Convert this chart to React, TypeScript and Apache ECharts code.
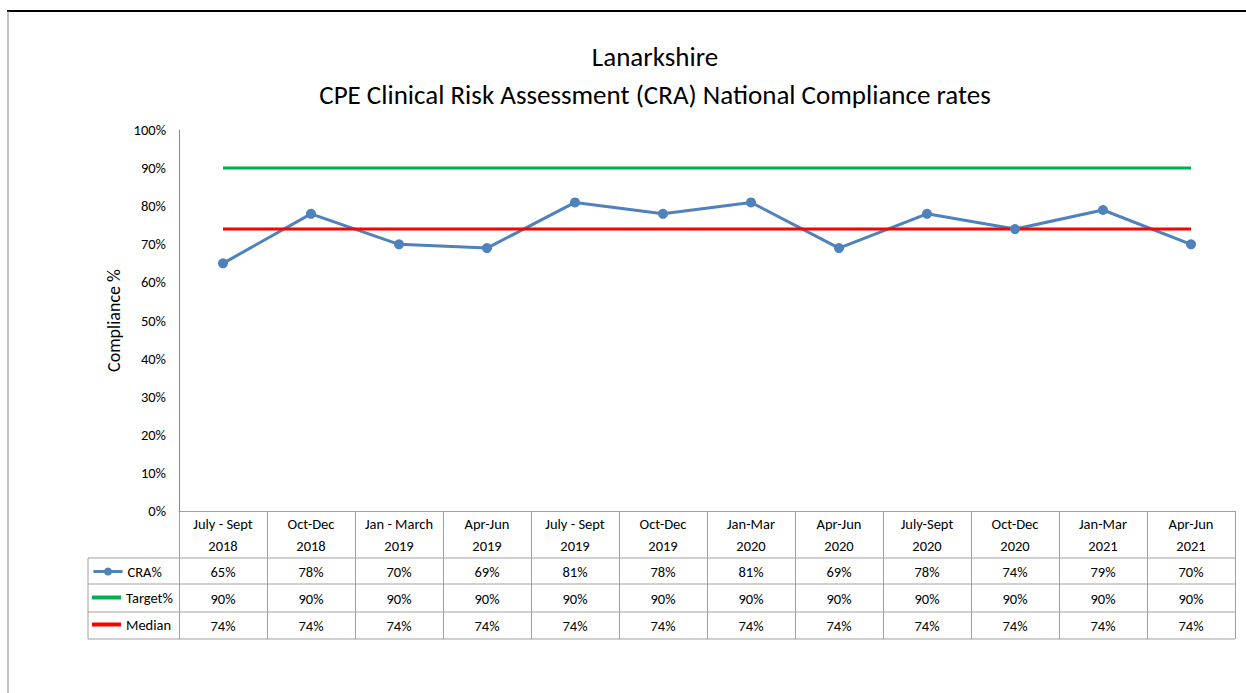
import React, { useEffect, useRef } from "react";
import * as echarts from "echarts";

const categories = [
  "July - Sept\n2018", "Oct-Dec\n2018", "Jan - March\n2019", "Apr-Jun\n2019",
  "July - Sept\n2019", "Oct-Dec\n2019", "Jan-Mar\n2020", "Apr-Jun\n2020",
  "July-Sept\n2020", "Oct-Dec\n2020", "Jan-Mar\n2021", "Apr-Jun\n2021",
];
const craValues = [65, 78, 70, 69, 81, 78, 81, 69, 78, 74, 79, 70];
const targetValues = [90, 90, 90, 90, 90, 90, 90, 90, 90, 90, 90, 90];
const medianValues = [74, 74, 74, 74, 74, 74, 74, 74, 74, 74, 74, 74];
const titleLines = ["Lanarkshire", "CPE Clinical Risk Assessment (CRA) National Compliance rates"];
const yTicks = { min: 0, max: 100, interval: 10 };

const FONT = "Carlito, Calibri, Lato, sans-serif";
const GRID_L = 179, GRID_R = 1235, GRID_T = 130, GRID_B = 511;
const TABLE_L = 88;
const ROW_LINES = [558, 584, 612, 639];
const GRID_COLOR = "#a0a0a0";
const FS = 14.5;

export default function App() {
  const ref = useRef<HTMLDivElement>(null);
  useEffect(() => {
    const chart = echarts.init(ref.current!, null, { renderer: "svg" });
    const pct = (v: number) => v + "%";
    const rowAxis = (vals: number[], margin: number) => ({
      type: "category",
      gridIndex: 0,
      position: "bottom",
      data: vals.map(pct),
      boundaryGap: true,
      axisLine: { show: false },
      axisTick: { show: false },
      axisLabel: { interval: 0, margin, fontSize: FS, color: "#000", fontFamily: FONT, lineHeight: 20 },
    });
    const legendItem = (name: string, top: number, lineOnly: boolean) => ({
      data: [name],
      left: 92,
      top,
      padding: 0,
      itemWidth: 29,
      itemHeight: lineOnly ? 4 : 10,
      icon: lineOnly ? "rect" : undefined,
      lineStyle: { width: 3 },
      selectedMode: false,
      textStyle: { fontSize: FS, color: "#000", fontFamily: FONT },
    });
    const graphics: any[] = [
      { type: "line", shape: { x1: 7, y1: 11, x2: 1246, y2: 11 }, style: { stroke: "#000", lineWidth: 2 } },
      { type: "line", shape: { x1: 8, y1: 11, x2: 8, y2: 693 }, style: { stroke: "#888", lineWidth: 1 } },
      { type: "line", shape: { x1: TABLE_L, y1: ROW_LINES[0], x2: TABLE_L, y2: ROW_LINES[3] }, style: { stroke: GRID_COLOR, lineWidth: 1 } },
      ...ROW_LINES.map((y) => ({
        type: "line", shape: { x1: TABLE_L, y1: y, x2: GRID_R, y2: y }, style: { stroke: GRID_COLOR, lineWidth: 1 },
      })),
      ...titleLines.map((t, i) => ({
        type: "text", x: 655, y: 56 + i * 38,
        style: { text: t, fontSize: 27, fontFamily: FONT, fill: "#000", textAlign: "center", textVerticalAlign: "middle" },
      })),
    ];
    chart.setOption({
      animation: false,
      backgroundColor: "#fff",
      grid: { left: GRID_L, right: 1246 - GRID_R, top: GRID_T, bottom: 693 - GRID_B, containLabel: false },
      legend: [legendItem("CRA%", 564, false), legendItem("Target%", 590, true), legendItem("Median", 617, true)],
      xAxis: [
        {
          type: "category",
          data: categories,
          boundaryGap: true,
          axisLine: { show: true, lineStyle: { color: GRID_COLOR, width: 1 } },
          axisTick: { show: true, interval: 0, length: ROW_LINES[3] - GRID_B, lineStyle: { color: GRID_COLOR } },
          axisLabel: { interval: 0, margin: 2, fontSize: FS, color: "#000", fontFamily: FONT, lineHeight: 22 },
        },
        rowAxis(craValues, 51),
        rowAxis(targetValues, 78),
        rowAxis(medianValues, 105),
      ],
      yAxis: {
        type: "value",
        min: yTicks.min,
        max: yTicks.max,
        interval: yTicks.interval,
        name: "Compliance %",
        nameLocation: "middle",
        nameGap: 50,
        nameTextStyle: { fontSize: 18, color: "#000", fontFamily: FONT },
        axisLine: { show: true, lineStyle: { color: "#888", width: 1 } },
        axisTick: { show: false },
        splitLine: { show: false },
        axisLabel: { formatter: "{value}%", fontSize: FS, color: "#000", fontFamily: FONT, margin: 13 },
      },
      series: [
        {
          name: "CRA%", type: "line", data: craValues, symbol: "circle", symbolSize: 10,
          lineStyle: { color: "#4F81BD", width: 3 }, itemStyle: { color: "#4F81BD" }, z: 3,
        },
        {
          name: "Target%", type: "line", data: targetValues, symbol: "none", showSymbol: false,
          lineStyle: { color: "#00B050", width: 3 }, itemStyle: { color: "#00B050" },
        },
        {
          name: "Median", type: "line", data: medianValues, symbol: "none", showSymbol: false,
          lineStyle: { color: "#FF0000", width: 3 }, itemStyle: { color: "#FF0000" },
        },
      ],
      graphic: graphics,
    });
    return () => chart.dispose();
  }, []);
  return (
    <div
      ref={ref}
      style={{ position: "fixed", left: 0, top: 0, width: 1246, height: 693, background: "#fff" }}
    />
  );
}
